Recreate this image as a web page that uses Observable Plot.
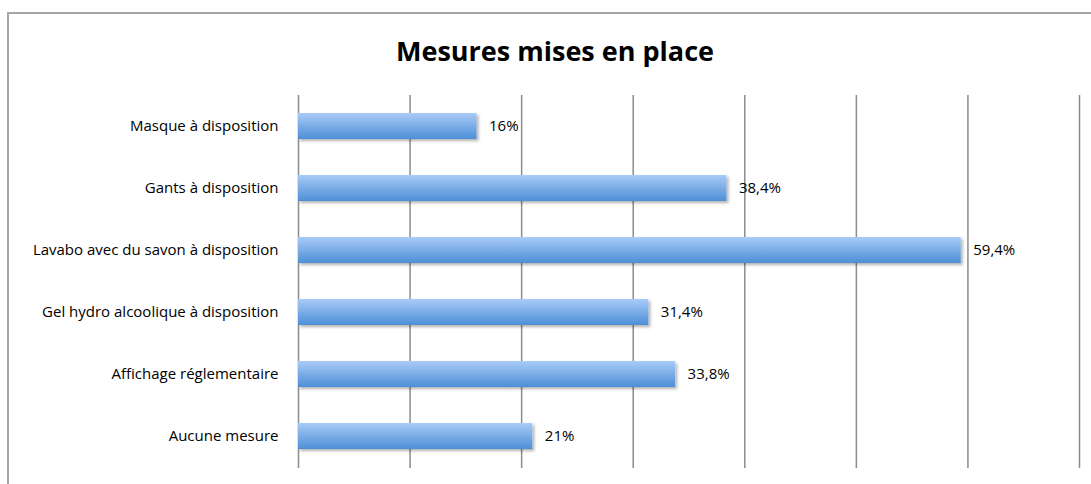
<!DOCTYPE html>
<html>
<head>
<meta charset="utf-8">
<script src="https://cdn.jsdelivr.net/npm/d3@7"></script>
<script src="https://cdn.jsdelivr.net/npm/@observablehq/plot@0.6"></script>
<style>
  body { margin: 0; background: #fff; }
  #wrap { position: relative; width: 1091px; height: 484px; overflow: hidden; background: #fff; font-family: "Open Sans", sans-serif; }
  #frame { position: absolute; left: 7px; top: 12px; width: 1100px; height: 500px; border: 2px solid #a6a6a6; box-sizing: border-box; }
  #title { position: absolute; top: 34px; left: 555px; transform: translateX(-50%); font-size: 27px; line-height: 34px; font-weight: bold; color: #000; white-space: nowrap; }
  #chart { position: absolute; left: 0; top: 0; }
</style>
</head>
<body>
<div id="wrap">
  <div id="frame"></div>
  <div id="chart"></div>
  <div id="title">Mesures mises en place</div>
</div>
<script>
const categories = [
  "Masque à disposition",
  "Gants à disposition",
  "Lavabo avec du savon à disposition",
  "Gel hydro alcoolique à disposition",
  "Affichage réglementaire",
  "Aucune mesure"
];
const values = [16, 38.4, 59.4, 31.4, 33.8, 21];
const gridTicks = [0, 10, 20, 30, 40, 50, 60, 70];

const data = categories.map((c, i) => ({
  category: c,
  value: values[i],
  label: String(values[i]).replace(".", ",") + "%"
}));

const chart = Plot.plot({
  width: 1091,
  height: 484,
  marginTop: 95,
  marginBottom: 16,
  marginLeft: 298,
  marginRight: 12,
  style: { fontFamily: "'Open Sans', sans-serif", fontSize: "15px", background: "transparent", color: "#000" },
  x: { domain: [0, 70], axis: null },
  y: { domain: categories, paddingInner: 0.58, paddingOuter: 0.29, label: null, tickSize: 0, tickPadding: 20 },
  marks: [
    Plot.ruleX(gridTicks, { stroke: "#8c8c8c", strokeWidth: 1.5 }),
    Plot.barX(data, { x: "value", y: "category", fill: "url(#barGrad)" }),
    Plot.text(data, { x: "value", y: "category", text: "label", textAnchor: "start", dx: 12, fill: "#000", fontSize: 15 }),
    Plot.axisY({ tickSize: 0, tickPadding: 20, fontSize: 15, label: null })
  ]
});

const svg = d3.select(chart);
const defs = svg.insert("defs", ":first-child");
const g = defs.append("linearGradient").attr("id", "barGrad").attr("x1", 0).attr("y1", 0).attr("x2", 0).attr("y2", 1);
g.append("stop").attr("offset", "0%").attr("stop-color", "#a9cbf7");
g.append("stop").attr("offset", "100%").attr("stop-color", "#4d8fd6");
const f = defs.append("filter").attr("id", "barShadow").attr("x", "-5%").attr("y", "-30%").attr("width", "115%").attr("height", "180%");
f.append("feDropShadow").attr("dx", 2).attr("dy", 2).attr("stdDeviation", 1.5).attr("flood-color", "#000").attr("flood-opacity", 0.3);
svg.selectAll("rect").filter(function() { return this.getAttribute("fill") === "url(#barGrad)" || (this.parentNode && this.parentNode.getAttribute("fill") === "url(#barGrad)"); }).attr("filter", "url(#barShadow)");

document.getElementById("chart").appendChild(chart);
</script>
</body>
</html>
